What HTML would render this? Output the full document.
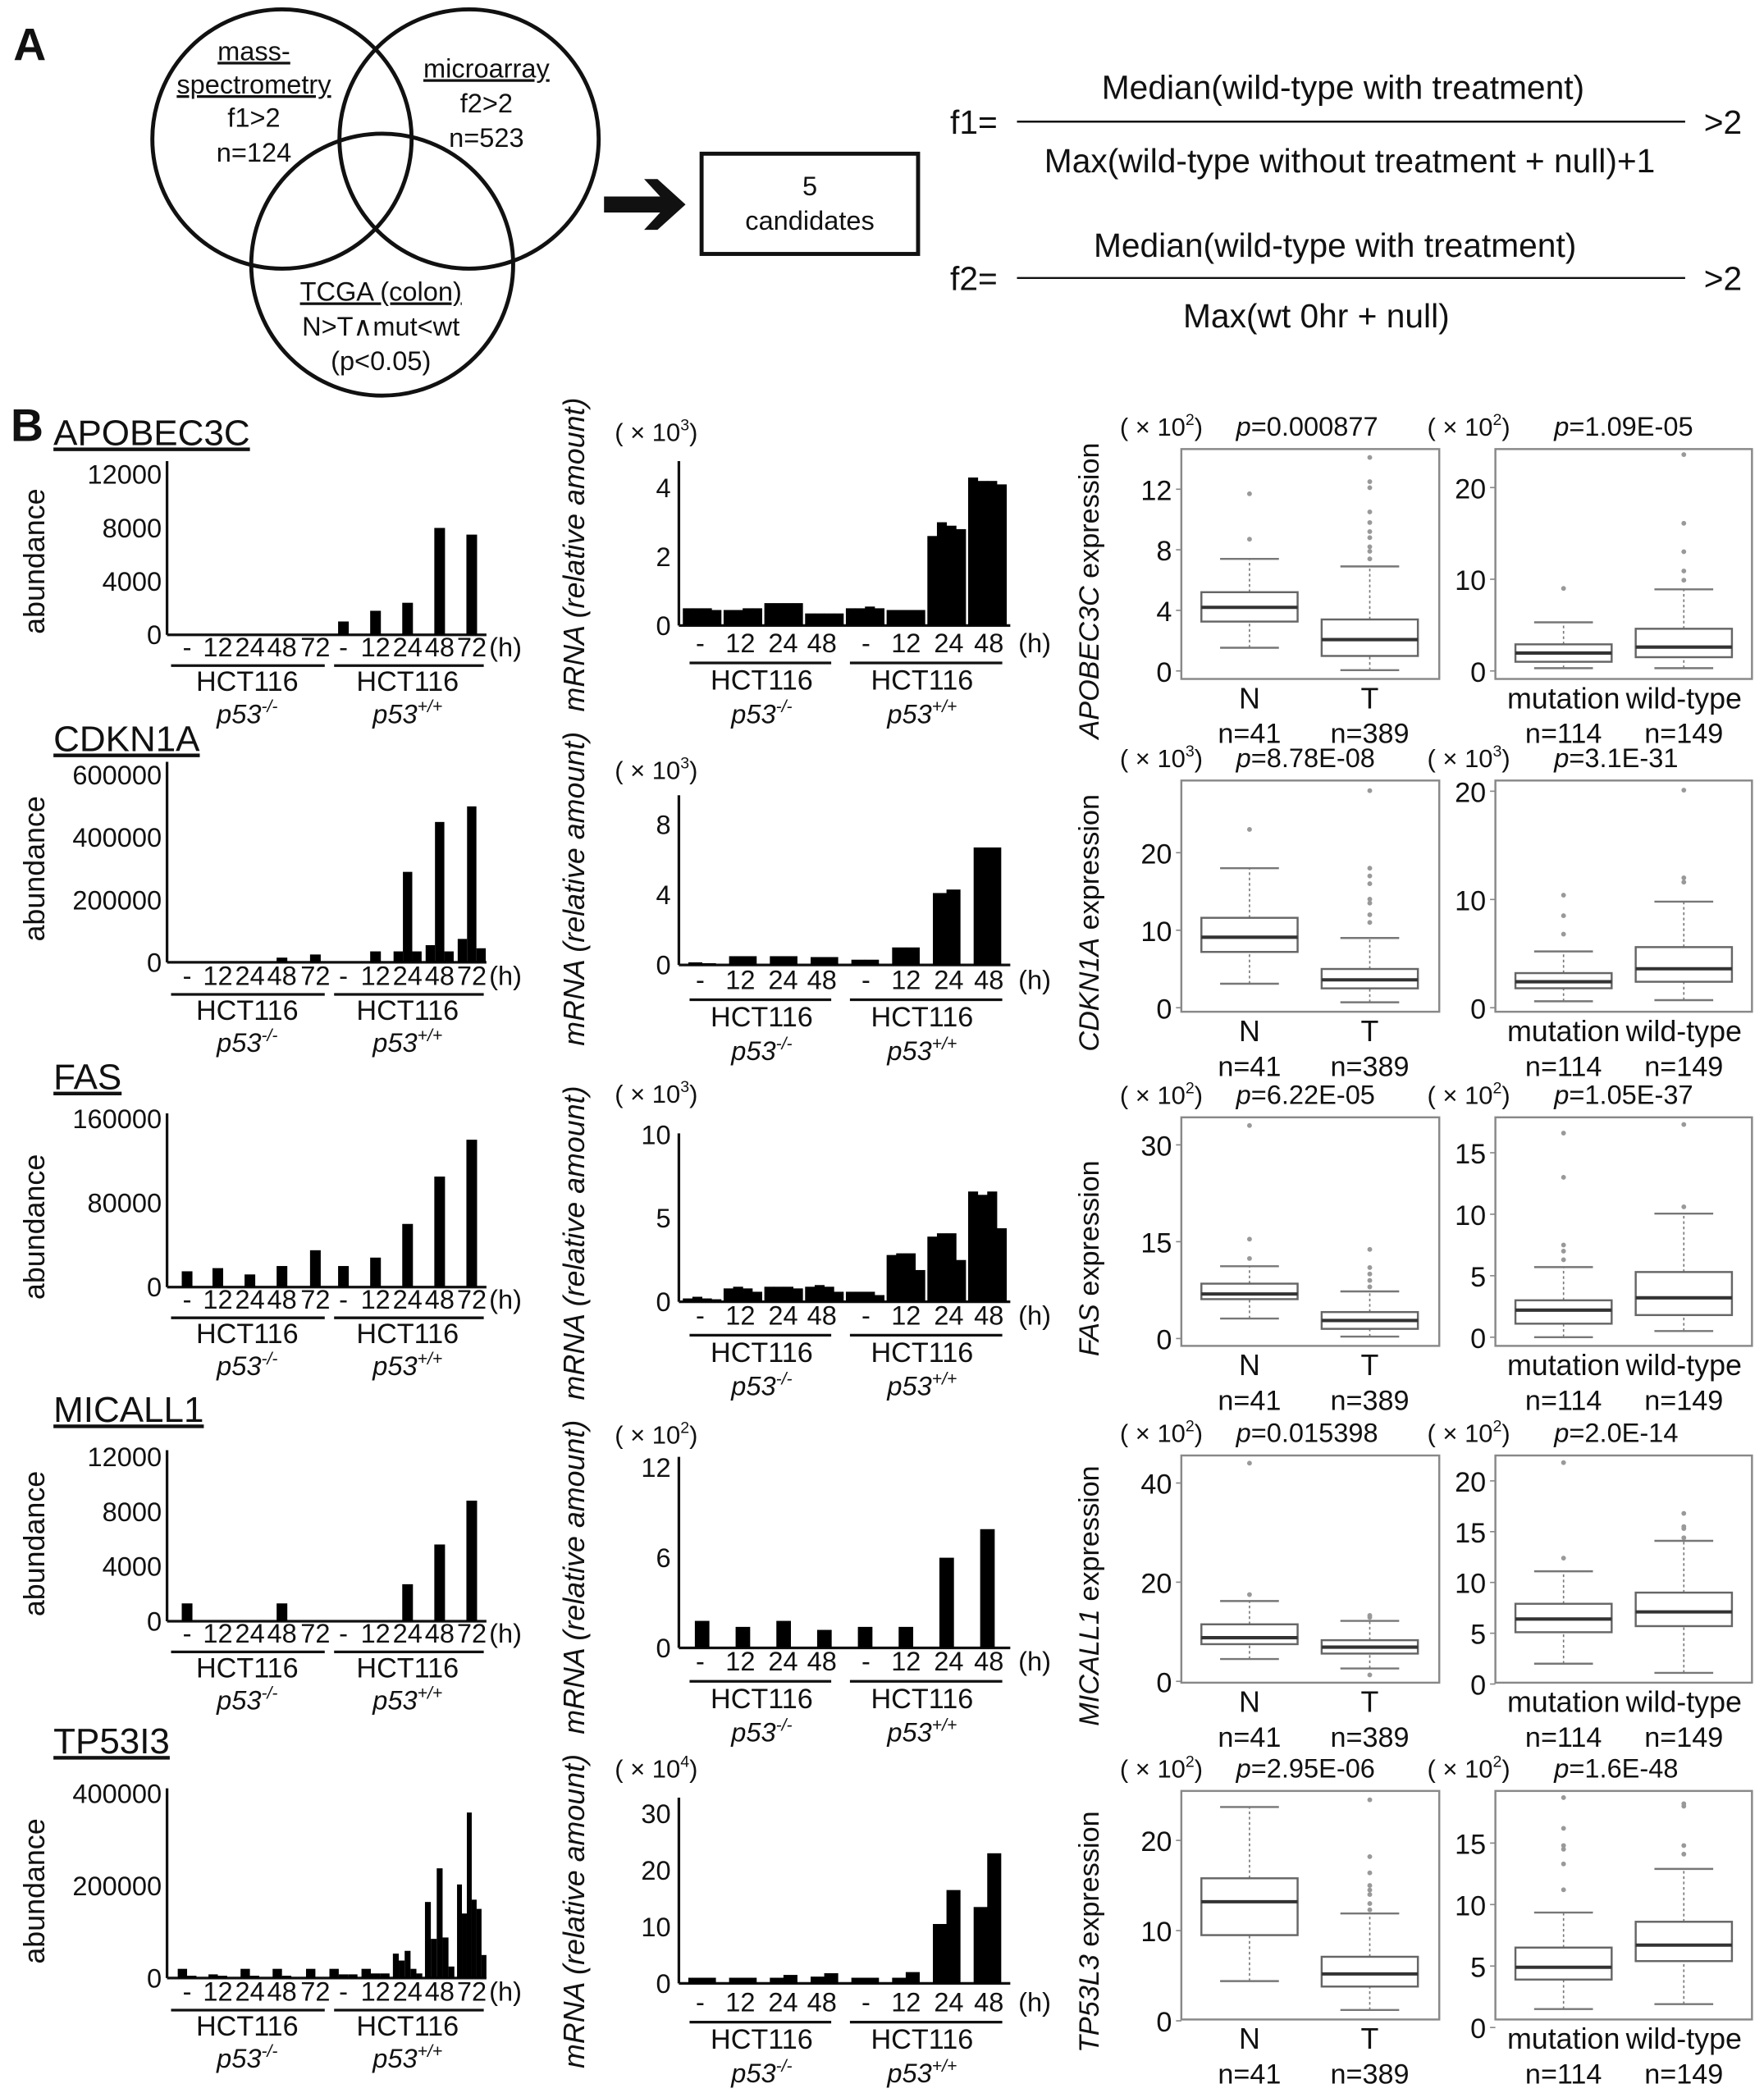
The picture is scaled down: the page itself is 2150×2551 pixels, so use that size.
<!DOCTYPE html>
<html><head><meta charset="utf-8"><title>Figure</title>
<style>
html,body{margin:0;padding:0;background:#fff;}
svg{display:block;}
text{font-family:"Liberation Sans",Arial,sans-serif;fill:#111;}
</style></head>
<body>
<svg id="fig" xmlns="http://www.w3.org/2000/svg" width="2150" height="2551" viewBox="0 0 1320 1566" preserveAspectRatio="none">
<rect x="0" y="0" width="1320" height="1566" fill="#fff"/>
<g>
<text x="10" y="45" font-size="34" font-weight="bold">A</text>
<circle cx="211" cy="104" r="97" fill="none" stroke="#111" stroke-width="3"/>
<circle cx="351" cy="104" r="97" fill="none" stroke="#111" stroke-width="3"/>
<circle cx="286" cy="198" r="98" fill="none" stroke="#111" stroke-width="3"/>
<g font-size="20" text-anchor="middle">
<text x="190" y="45" text-decoration="underline">mass-</text>
<text x="190" y="70" text-decoration="underline">spectrometry</text>
<text x="190" y="95">f1&gt;2</text>
<text x="190" y="121">n=124</text>
<text x="364" y="58" text-decoration="underline">microarray</text>
<text x="364" y="84">f2&gt;2</text>
<text x="364" y="110">n=523</text>
<text x="285" y="225" text-decoration="underline">TCGA (colon)</text>
<text x="285" y="251">N&gt;T∧mut&lt;wt</text>
<text x="285" y="277">(p&lt;0.05)</text>
</g>
<path d="M452,147 L494,147 L482,134 L492,134 L513,153 L492,172 L482,172 L494,159 L452,159 Z" fill="#111"/>
<rect x="525" y="115" width="162" height="75" fill="none" stroke="#111" stroke-width="3"/>
<text x="606" y="146" font-size="20" text-anchor="middle">5</text>
<text x="606" y="172" font-size="20" text-anchor="middle">candidates</text>
<g font-size="25">
<text x="711" y="100">f1=</text>
<text x="1005" y="74" text-anchor="middle">Median(wild-type with treatment)</text>
<line x1="761" y1="91" x2="1261" y2="91" stroke="#111" stroke-width="1.5"/>
<text x="1010" y="129" text-anchor="middle">Max(wild-type without treatment + null)+1</text>
<text x="1275" y="100">&gt;2</text>
<text x="711" y="217">f2=</text>
<text x="999" y="192" text-anchor="middle">Median(wild-type with treatment)</text>
<line x1="761" y1="208" x2="1261" y2="208" stroke="#111" stroke-width="1.5"/>
<text x="985" y="245" text-anchor="middle">Max(wt 0hr + null)</text>
<text x="1275" y="217">&gt;2</text>
</g>
</g>
<text x="8" y="330" font-size="34" font-weight="bold">B</text>
<g id="panelB"></g>
</svg>
<script>
// ===== DATA =====
const genes = ['APOBEC3C','CDKN1A','FAS','MICALL1','TP53I3'];
const exprGenes = ['APOBEC3C','CDKN1A','FAS','MICALL1','TP53L3'];
const abundTimeLabels = ['-','12','24','48','72','-','12','24','48','72'];
const mrnaTimeLabels = ['-','12','24','48','-','12','24','48'];
const abund1 = [[0],[0],[0],[0],[0],[1000],[1800],[2400],[8000],[7500]];
const abund2 = [[0],[0],[0],[15000],[25000],[0],[35000],[35000,290000,35000],[55000,450000,35000],[75000,500000,45000]];
const abund3 = [[15000],[18000],[12000],[20000],[35000],[20000],[28000],[60000],[105000],[140000]];
const abund4 = [[1300],[0],[0],[1300],[0],[0],[0],[2700],[5600],[8800]];
const abund5 = [[20000,5000],[8000,5000],[20000,5000],[20000,5000],[20000,0],[20000,8000,8000],[20000,10000,10000],[53000,38000,59000,20000,10000],[165000,85000,238000,88000,25000],[203000,140000,359000,170000,150000,50000]];
const abundTicks1 = [0,4000,8000,12000];
const abundTicks2 = [0,200000,400000,600000];
const abundTicks3 = [0,80000,160000];
const abundTicks4 = [0,4000,8000,12000];
const abundTicks5 = [0,200000,400000];
const mrna1 = [[0.5,0.5,0.5,0.45],[0.45,0.45,0.5,0.5],[0.65,0.65,0.65,0.65],[0.35,0.35,0.35,0.35],[0.5,0.5,0.55,0.5],[0.45,0.45,0.45,0.45],[2.6,3.0,2.9,2.8],[4.3,4.2,4.2,4.1]];
const mrna2 = [[0.15,0.1],[0.5,0.5],[0.5,0.5],[0.45,0.45],[0.3,0.3],[1.0,1.0],[4.1,4.3],[6.7,6.7]];
const mrna3 = [[0.2,0.3,0.2,0.15],[0.8,0.9,0.8,0.6],[0.9,0.9,0.9,0.8],[0.9,1.0,0.9,0.6],[0.6,0.6,0.6,0.4],[2.8,2.9,2.9,1.9],[3.9,4.1,4.1,2.5],[6.6,6.4,6.6,4.4]];
const mrna4 = [[1.8],[1.4],[1.8],[1.2],[1.4],[1.4],[6.0],[7.9]];
const mrna5 = [[1,1],[1,1],[1,1.5],[1.2,1.8],[1,1],[1,2],[10.5,16.5],[13.5,23]];
const mrnaTicks1 = [0,2,4];
const mrnaTicks2 = [0,4,8];
const mrnaTicks3 = [0,5,10];
const mrnaTicks4 = [0,6,12];
const mrnaTicks5 = [0,10,20,30];
const mrnaExp = ['3','3','3','2','4'];
const boxNT1 = [[1.53,3.26,4.2,5.2,7.4],[0.05,0.99,2.07,3.4,6.9]];
const outNT1 = [[8.7,11.7],[7.4,7.9,8.2,8.8,9.2,9.8,10.5,12.1,12.5,14.1]];
const boxMW1 = [[0.3,1.0,1.95,2.9,5.3],[0.3,1.5,2.6,4.6,8.9]];
const outMW1 = [[9.0],[9.9,10.9,13.0,16.1,23.6]];
const boxNT2 = [[3.1,7.2,9.1,11.6,18.0],[0.7,2.5,3.6,5.0,9.0]];
const outNT2 = [[23],[11,12,13.5,14,16,17,18,28]];
const boxMW2 = [[0.6,1.8,2.4,3.2,5.2],[0.7,2.4,3.6,5.6,9.8]];
const outMW2 = [[6.8,8.5,10.4],[11.6,12,20.1]];
const boxNT3 = [[3.1,6.1,6.9,8.5,11.2],[0.3,1.5,2.8,4.1,7.3]];
const outNT3 = [[12.4,15.4,33],[8,9,10,11,13.8]];
const boxMW3 = [[0,1.1,2.2,3.0,5.7],[0.5,1.8,3.2,5.3,10.05]];
const outMW3 = [[6.3,7.0,7.5,13,16.6],[10.6,17.3]];
const boxNT4 = [[4.5,7.5,8.8,11.5,16.2],[2.6,5.6,6.9,8.3,12.2]];
const outNT4 = [[17.5,44],[12.9,13.3,1.3]];
const boxMW4 = [[2.0,5.1,6.4,7.9,11.1],[1.1,5.7,7.1,9.0,14.1]];
const outMW4 = [[12.4,21.8],[14.4,15.3,15.5,16.8]];
const boxNT5 = [[4.4,9.5,13.2,15.8,23.7],[1.2,3.8,5.2,7.1,11.9]];
const outNT5 = [[],[12.3,13,14,14.5,15,16.4,18.2,24.5]];
const boxMW5 = [[1.5,3.9,4.9,6.5,9.35],[1.9,5.4,6.7,8.6,12.9]];
const outMW5 = [[11.2,13.3,14.5,14.8,16.2,18.7],[14.1,14.8,18.0,18.2]];
const boxTicksNT = [[0,4,8,12],[0,10,20],[0,15,30],[0,20,40],[0,10,20]];
const boxTicksMW = [[0,10,20],[0,10,20],[0,5,10,15],[0,5,10,15,20],[0,5,10,15]];
const boxExp = [['2','2'],['3','3'],['2','2'],['2','2'],['2','2']];
const pValNT = ['0.000877','8.78E-08','6.22E-05','0.015398','2.95E-06'];
const pValMW = ['1.09E-05','3.1E-31','1.05E-37','2.0E-14','1.6E-48'];
const groupNT = ['N','T'];
const groupMW = ['mutation','wild-type'];
const nNT = ['n=41','n=389'];
const nMW = ['n=114','n=149'];

const abundAll=[abund1,abund2,abund3,abund4,abund5];
const abundTicksAll=[abundTicks1,abundTicks2,abundTicks3,abundTicks4,abundTicks5];
const mrnaAll=[mrna1,mrna2,mrna3,mrna4,mrna5];
const mrnaTicksAll=[mrnaTicks1,mrnaTicks2,mrnaTicks3,mrnaTicks4,mrnaTicks5];
const boxNTAll=[boxNT1,boxNT2,boxNT3,boxNT4,boxNT5];
const outNTAll=[outNT1,outNT2,outNT3,outNT4,outNT5];
const boxMWAll=[boxMW1,boxMW2,boxMW3,boxMW4,boxMW5];
const outMWAll=[outMW1,outMW2,outMW3,outMW4,outMW5];

const L = [
 {title:333, aTop:345, aZero:475, aMaxPx:355, aTime:491, aAb:420,
  mTop:345, mZero:468, mMaxPx:365, mTime:488, mExpY:330, mLab:415,
  fTop:336, fBot:508, ntZero:502, ntPpu:11.33, mwZero:502, mwPpu:6.86, frac:0.97},
 {title:562, aTop:570, aZero:720, aMaxPx:580, aTime:737, aAb:650,
  mTop:595, mZero:722, mMaxPx:617, mTime:740, mExpY:583, mLab:665,
  fTop:584, fBot:757, ntZero:754, ntPpu:5.8, mwZero:754, mwPpu:8.1, frac:0.7},
 {title:815, aTop:833, aZero:963, aMaxPx:837, aTime:979, aAb:918,
  mTop:848, mZero:974, mMaxPx:849, mTime:991, mExpY:825, mLab:930,
  fTop:836, fBot:1007, ntZero:1001.5, ntPpu:4.83, mwZero:1000.5, mwPpu:9.2, frac:0.97},
 {title:1064, aTop:1085, aZero:1213, aMaxPx:1090, aTime:1229, aAb:1155,
  mTop:1090, mZero:1233, mMaxPx:1098, mTime:1250, mExpY:1080, mLab:1180,
  fTop:1089, fBot:1259, ntZero:1258, ntPpu:3.71, mwZero:1260, mwPpu:7.6, frac:0.38},
 {title:1312, aTop:1338, aZero:1480, aMaxPx:1342, aTime:1497, aAb:1415,
  mTop:1345, mZero:1484, mMaxPx:1357, mTime:1505, mExpY:1330, mLab:1430,
  fTop:1340, fBot:1511, ntZero:1512, ntPpu:6.75, mwZero:1517, mwPpu:9.2, frac:0.7}
];
const aCenters=[140,163,187,211,236,257,281,305,329,353];
const NS='http://www.w3.org/2000/svg';
const root=document.getElementById('panelB');
function mk(tag,attrs,parent,name){
  const e=document.createElementNS(NS,tag);
  for(const k in attrs) e.setAttribute(k,attrs[k]);
  
  
  (parent||root).appendChild(e);
  return e;
}
function txt(x,y,s,size,anchor,parent,name,extra){
  const t=mk('text',Object.assign({x:x,y:y,'font-size':size,'text-anchor':anchor||'start'},extra||{}),parent,name);
  t.textContent=s;
  return t;
}
function p53Label(x,y,sup,parent,name){
  const t=mk('text',{x:x,y:y,'font-size':20,'text-anchor':'middle','font-style':'italic'},parent,name);
  const a=document.createElementNS(NS,'tspan'); a.textContent='p53'; t.appendChild(a);
  const b=document.createElementNS(NS,'tspan'); b.textContent=sup; b.setAttribute('dy','-8'); b.setAttribute('font-size','13'); t.appendChild(b);
}
function sciLabel(x,y,exp,parent,name){
  const t=mk('text',{x:x,y:y,'font-size':19},parent,name);
  const a=document.createElementNS(NS,'tspan'); a.textContent='( × 10'; t.appendChild(a);
  const b=document.createElementNS(NS,'tspan'); b.textContent=exp; b.setAttribute('dy','-8'); b.setAttribute('font-size','12'); t.appendChild(b);
  const c=document.createElementNS(NS,'tspan'); c.textContent=')'; c.setAttribute('dy','8'); t.appendChild(c);
}

for(let r=0;r<5;r++){
  const g=L[r];
  const row=mk('g',{},root,'row-'+genes[r].toLowerCase());
  txt(40,g.title,genes[r],27,'start',row,'gene-title',{'text-decoration':'underline'});

  const ab=mk('g',{},row,'abundance-chart');
  const aTicks=abundTicksAll[r];
  const aMax=aTicks[aTicks.length-1];
  const aY=v=>g.aZero-(v/aMax)*(g.aZero-g.aMaxPx);
  mk('line',{x1:125,y1:g.aTop,x2:125,y2:g.aZero,stroke:'#111','stroke-width':2},ab,'abundance-y-axis');
  mk('line',{x1:125,y1:g.aZero,x2:364,y2:g.aZero,stroke:'#111','stroke-width':2},ab,'abundance-x-axis');
  aTicks.forEach(v=>{ txt(121,aY(v)+7,String(v),20,'end',ab,'abundance-tick-label'); });
  mk('text',{x:0,y:0,'font-size':22,'text-anchor':'middle',transform:'translate(33,'+g.aAb+') rotate(-90)'},ab,'abundance-y-title').textContent='abundance';
  abundAll[r].forEach((reps,i)=>{
    const n=reps.length; const bw=n===1?8:Math.min(7,22/n); const x0=aCenters[i]-bw*n/2;
    reps.forEach((v,j)=>{
      if(v<=0) return;
      mk('rect',{x:x0+j*bw,y:aY(v),width:bw,height:g.aZero-aY(v),fill:'#000'},ab,'abundance-bar');
    });
  });
  abundTimeLabels.forEach((s,i)=>{ txt(aCenters[i],g.aTime,s,20,'middle',ab,'abundance-time-label'); });
  txt(366,g.aTime,'(h)',20,'start',ab,'abundance-unit-label');
  mk('line',{x1:128,y1:g.aTime+7,x2:243,y2:g.aTime+7,stroke:'#111','stroke-width':2},ab,'group-underline');
  mk('line',{x1:250,y1:g.aTime+7,x2:362,y2:g.aTime+7,stroke:'#111','stroke-width':2},ab,'group-underline');
  txt(185,g.aTime+26,'HCT116',21,'middle',ab,'cell-line-label');
  txt(305,g.aTime+26,'HCT116',21,'middle',ab,'cell-line-label');
  p53Label(185,g.aTime+50,'-/-',ab,'genotype-label');
  p53Label(305,g.aTime+50,'+/+',ab,'genotype-label');

  const mr=mk('g',{},row,'mrna-chart');
  const mTicks=mrnaTicksAll[r];
  const mMax=mTicks[mTicks.length-1];
  const mY=v=>g.mZero-(v/mMax)*(g.mZero-g.mMaxPx);
  mk('line',{x1:508,y1:g.mTop,x2:508,y2:g.mZero,stroke:'#111','stroke-width':2},mr,'mrna-y-axis');
  mk('line',{x1:508,y1:g.mZero,x2:756,y2:g.mZero,stroke:'#111','stroke-width':2},mr,'mrna-x-axis');
  mTicks.forEach(v=>{ txt(502,mY(v)+7,String(v),20,'end',mr,'mrna-tick-label'); });
  sciLabel(460,g.mExpY,mrnaExp[r],mr,'mrna-scale-label');
  const ml=mk('text',{x:0,y:0,'font-size':22,'text-anchor':'middle','font-style':'italic',transform:'translate(437,'+g.mLab+') rotate(-90)'},mr,'mrna-y-title');
  ml.textContent='mRNA  (relative  amount)';
  const bwBlock=30.5;
  mrnaAll[r].forEach((reps,i)=>{
    const inner=bwBlock*g.frac-1; const x0=510+i*bwBlock+(bwBlock-inner)/2; const w=inner/reps.length;
    reps.forEach((v,j)=>{
      mk('rect',{x:x0+j*w,y:mY(v),width:w+0.3,height:g.mZero-mY(v),fill:'#000'},mr,'mrna-bar');
    });
  });
  const mC=[524,554,586,615,648,678,710,740];
  mrnaTimeLabels.forEach((s,i)=>{ txt(mC[i],g.mTime,s,20,'middle',mr,'mrna-time-label'); });
  txt(762,g.mTime,'(h)',20,'start',mr,'mrna-unit-label');
  mk('line',{x1:516,y1:g.mTime+8,x2:622,y2:g.mTime+8,stroke:'#111','stroke-width':2},mr,'group-underline');
  mk('line',{x1:636,y1:g.mTime+8,x2:750,y2:g.mTime+8,stroke:'#111','stroke-width':2},mr,'group-underline');
  txt(570,g.mTime+28,'HCT116',21,'middle',mr,'cell-line-label');
  txt(690,g.mTime+28,'HCT116',21,'middle',mr,'cell-line-label');
  p53Label(570,g.mTime+53,'-/-',mr,'genotype-label');
  p53Label(690,g.mTime+53,'+/+',mr,'genotype-label');

  const el=mk('text',{x:0,y:0,'font-size':21,'text-anchor':'middle',transform:'translate(822,'+((g.fTop+g.fBot)/2+20)+') rotate(-90)'},row,'expression-y-title');
  const t1=document.createElementNS(NS,'tspan'); t1.setAttribute('font-style','italic'); t1.textContent=exprGenes[r]; el.appendChild(t1);
  const t2=document.createElementNS(NS,'tspan'); t2.textContent='  expression'; el.appendChild(t2);
  const panels=[
    {x0:884,x1:1077,cx:[935,1025],zero:g.ntZero,ppu:g.ntPpu,box:boxNTAll[r],out:outNTAll[r],ticks:boxTicksNT[r],exp:boxExp[r][0],p:pValNT[r],hx:838,px:925,grp:groupNT,n:nNT,name:'boxplot-normal-tumor'},
    {x0:1119,x1:1311,cx:[1170,1260],zero:g.mwZero,ppu:g.mwPpu,box:boxMWAll[r],out:outMWAll[r],ticks:boxTicksMW[r],exp:boxExp[r][1],p:pValMW[r],hx:1068,px:1163,grp:groupMW,n:nMW,name:'boxplot-mutation-wildtype'}
  ];
  panels.forEach(P=>{
    const pg=mk('g',{},row,P.name);
    const Y=v=>P.zero-v*P.ppu;
    mk('rect',{x:P.x0,y:g.fTop,width:P.x1-P.x0,height:g.fBot-g.fTop,fill:'none',stroke:'#888','stroke-width':1.5},pg,'plot-frame');
    sciLabel(P.hx,g.fTop-10,P.exp,pg,'scale-label');
    const pt=mk('text',{x:P.px,y:g.fTop-10,'font-size':20},pg,'p-value');
    const pa=document.createElementNS(NS,'tspan'); pa.setAttribute('font-style','italic'); pa.textContent='p'; pt.appendChild(pa);
    const pb=document.createElementNS(NS,'tspan'); pb.textContent='='+P.p; pt.appendChild(pb);
    P.ticks.forEach(v=>{
      mk('line',{x1:P.x0-4,y1:Y(v),x2:P.x0,y2:Y(v),stroke:'#888','stroke-width':1},pg,'y-tick');
      txt(P.x0-7,Y(v)+8,String(v),21,'end',pg,'y-tick-label');
    });
    P.box.forEach((s,k)=>{
      const cx=P.cx[k], hw=36, cw=22;
      mk('line',{x1:cx,y1:Y(s[0]),x2:cx,y2:Y(s[1]),stroke:'#777','stroke-width':1,'stroke-dasharray':'2,2'},pg,'whisker-lower');
      mk('line',{x1:cx,y1:Y(s[3]),x2:cx,y2:Y(s[4]),stroke:'#777','stroke-width':1,'stroke-dasharray':'2,2'},pg,'whisker-upper');
      mk('line',{x1:cx-cw,y1:Y(s[0]),x2:cx+cw,y2:Y(s[0]),stroke:'#777','stroke-width':1.5},pg,'whisker-cap');
      mk('line',{x1:cx-cw,y1:Y(s[4]),x2:cx+cw,y2:Y(s[4]),stroke:'#777','stroke-width':1.5},pg,'whisker-cap');
      mk('rect',{x:cx-hw,y:Y(s[3]),width:2*hw,height:Y(s[1])-Y(s[3]),fill:'#fff',stroke:'#666','stroke-width':1.5},pg,'box-iqr');
      mk('line',{x1:cx-hw,y1:Y(s[2]),x2:cx+hw,y2:Y(s[2]),stroke:'#333','stroke-width':2.5},pg,'box-median');
      P.out[k].forEach(v=>{ mk('circle',{cx:cx,cy:Y(v),r:1.8,fill:'#999'},pg,'outlier-point'); });
      txt(cx,g.fBot+22,P.grp[k],22,'middle',pg,'group-label');
      txt(cx,g.fBot+48,P.n[k],21,'middle',pg,'sample-size-label');
    });
  });
}
</script>
</body></html>
